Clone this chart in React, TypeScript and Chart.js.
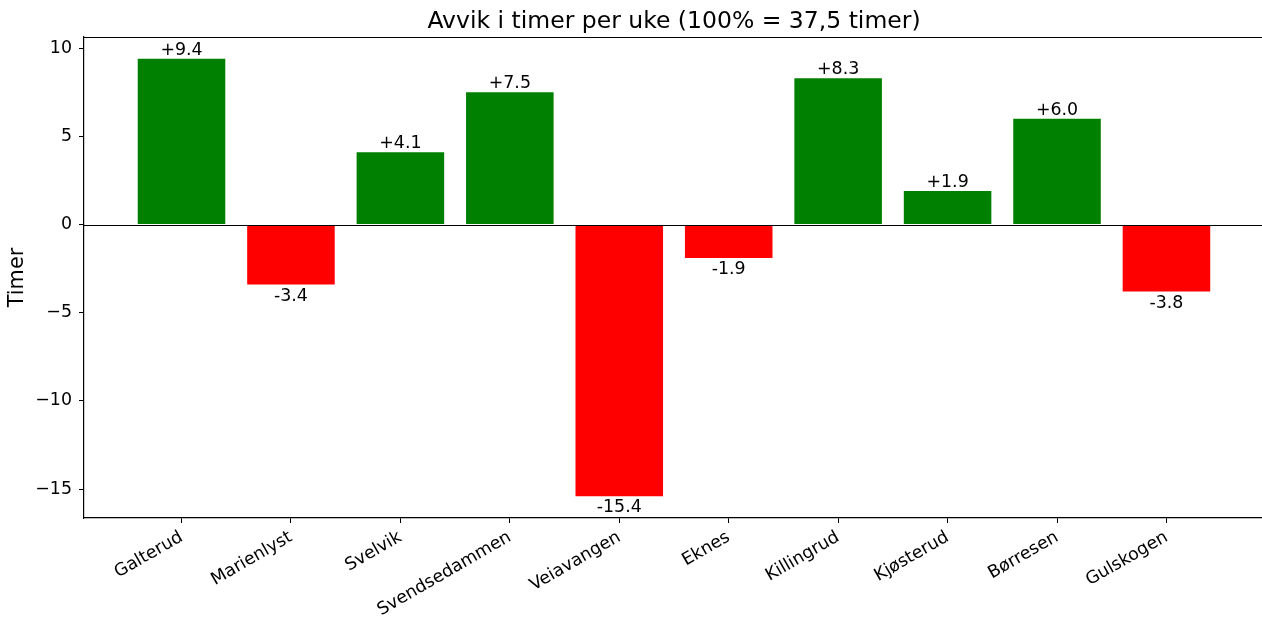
import React, { useEffect, useRef } from "react";
import { Chart, registerables } from "chart.js";

Chart.register(...registerables);

const categories = [
  "Galterud",
  "Marienlyst",
  "Svelvik",
  "Svendsedammen",
  "Veiavangen",
  "Eknes",
  "Killingrud",
  "Kjøsterud",
  "Børresen",
  "Gulskogen",
];
const values = [9.4, -3.4, 4.1, 7.5, -15.4, -1.9, 8.3, 1.9, 6.0, -3.8];
const yTicks = [-15, -10, -5, 0, 5, 10];
const chartTitle = "Avvik i timer per uke (100% = 37,5 timer)";
const yLabel = "Timer";

const POS_COLOR = "#008000";
const NEG_COLOR = "#ff0000";
const FONT = "'DejaVu Sans', sans-serif";
const TEXT = "#000000";

export default function App() {
  const ref = useRef<HTMLCanvasElement | null>(null);

  useEffect(() => {
    const canvas = ref.current;
    if (!canvas) return;

    const overlay = {
      id: "overlay",
      afterDatasetsDraw(chart: any) {
        const { ctx, chartArea, scales } = chart;
        const xs = scales.x;
        const ys = scales.y;
        ctx.save();
        const y0 = Math.round(ys.getPixelForValue(0)) + 0.5;
        ctx.strokeStyle = "#000";
        ctx.lineWidth = 1.2;
        ctx.beginPath();
        ctx.moveTo(chartArea.left, y0);
        ctx.lineTo(chartArea.right, y0);
        ctx.stroke();
        ctx.beginPath();
        ctx.moveTo(chartArea.left, chartArea.top + 0.5);
        ctx.lineTo(chartArea.right, chartArea.top + 0.5);
        ctx.stroke();
        const meta = chart.getDatasetMeta(0);
        ctx.fillStyle = TEXT;
        ctx.font = `17.4px ${FONT}`;
        ctx.textAlign = "center";
        ctx.textBaseline = "alphabetic";
        meta.data.forEach((bar: any, i: number) => {
          const v = values[i];
          const txt = (v >= 0 ? "+" : "-") + Math.abs(v).toFixed(1);
          if (v >= 0) {
            ctx.fillText(txt, bar.x, bar.y - 4);
          } else {
            ctx.fillText(txt, bar.x, bar.y + 16);
          }
        });
        ctx.font = `23.5px ${FONT}`;
        ctx.fillText(chartTitle, xs.getPixelForValue(4.5), chartArea.top - 9);
        ctx.restore();
      },
    };

    const chart = new Chart(canvas, {
      type: "bar",
      data: {
        datasets: [
          {
            data: values.map((v, i) => ({ x: i, y: v })),
            backgroundColor: values.map((v) => (v >= 0 ? POS_COLOR : NEG_COLOR)),
            borderWidth: 0,
            categoryPercentage: 0.8,
            barPercentage: 1,
          },
        ],
      },
      options: {
        responsive: false,
        animation: false,
        layout: { padding: { top: 37, left: 0, right: 0, bottom: 0 } },
        plugins: {
          legend: { display: false },
          tooltip: { enabled: false },
          title: { display: false },
        },
        scales: {
          x: {
            type: "linear",
            offset: false,
            min: -0.891,
            max: 9.873,
            afterBuildTicks: (s: any) => {
              s.ticks = categories.map((_, i) => ({ value: i }));
            },
            afterFit: (s: any) => {
              s.height = 101;
            },
            ticks: {
              autoSkip: false,
              minRotation: 30,
              maxRotation: 30,
              padding: 4,
              color: TEXT,
              font: { family: FONT, size: 17.4 },
              callback: (v: any) => categories[v as number],
            },
            grid: {
              offset: false,
              drawOnChartArea: false,
              drawTicks: true,
              tickLength: 5,
              color: "#000",
              lineWidth: 1,
            },
            border: { display: true, color: "#000", width: 1.2 },
          },
          y: {
            type: "linear",
            min: -16.64,
            max: 10.64,
            afterBuildTicks: (s: any) => {
              s.ticks = yTicks.map((v) => ({ value: v }));
            },
            afterFit: (s: any) => {
              s.width = 84;
            },
            ticks: {
              padding: 7,
              color: TEXT,
              font: { family: FONT, size: 17.4 },
              callback: (v: any) => (v < 0 ? "\u2212" + Math.abs(v) : String(v)),
            },
            grid: {
              drawOnChartArea: false,
              drawTicks: true,
              tickLength: 5,
              color: "#000",
              lineWidth: 1,
            },
            border: { display: true, color: "#000", width: 1.2 },
            title: {
              display: true,
              text: yLabel,
              color: TEXT,
              font: { family: FONT, size: 20.8 },
              padding: { top: 5, bottom: 0 },
            },
          },
        },
      },
      plugins: [overlay],
    } as any);

    return () => chart.destroy();
  }, []);

  return (
    <div style={{ position: "fixed", left: 0, top: 0, width: 1262, height: 619, background: "#fff" }}>
      <canvas ref={ref} width={1262} height={619} style={{ display: "block" }} />
    </div>
  );
}
